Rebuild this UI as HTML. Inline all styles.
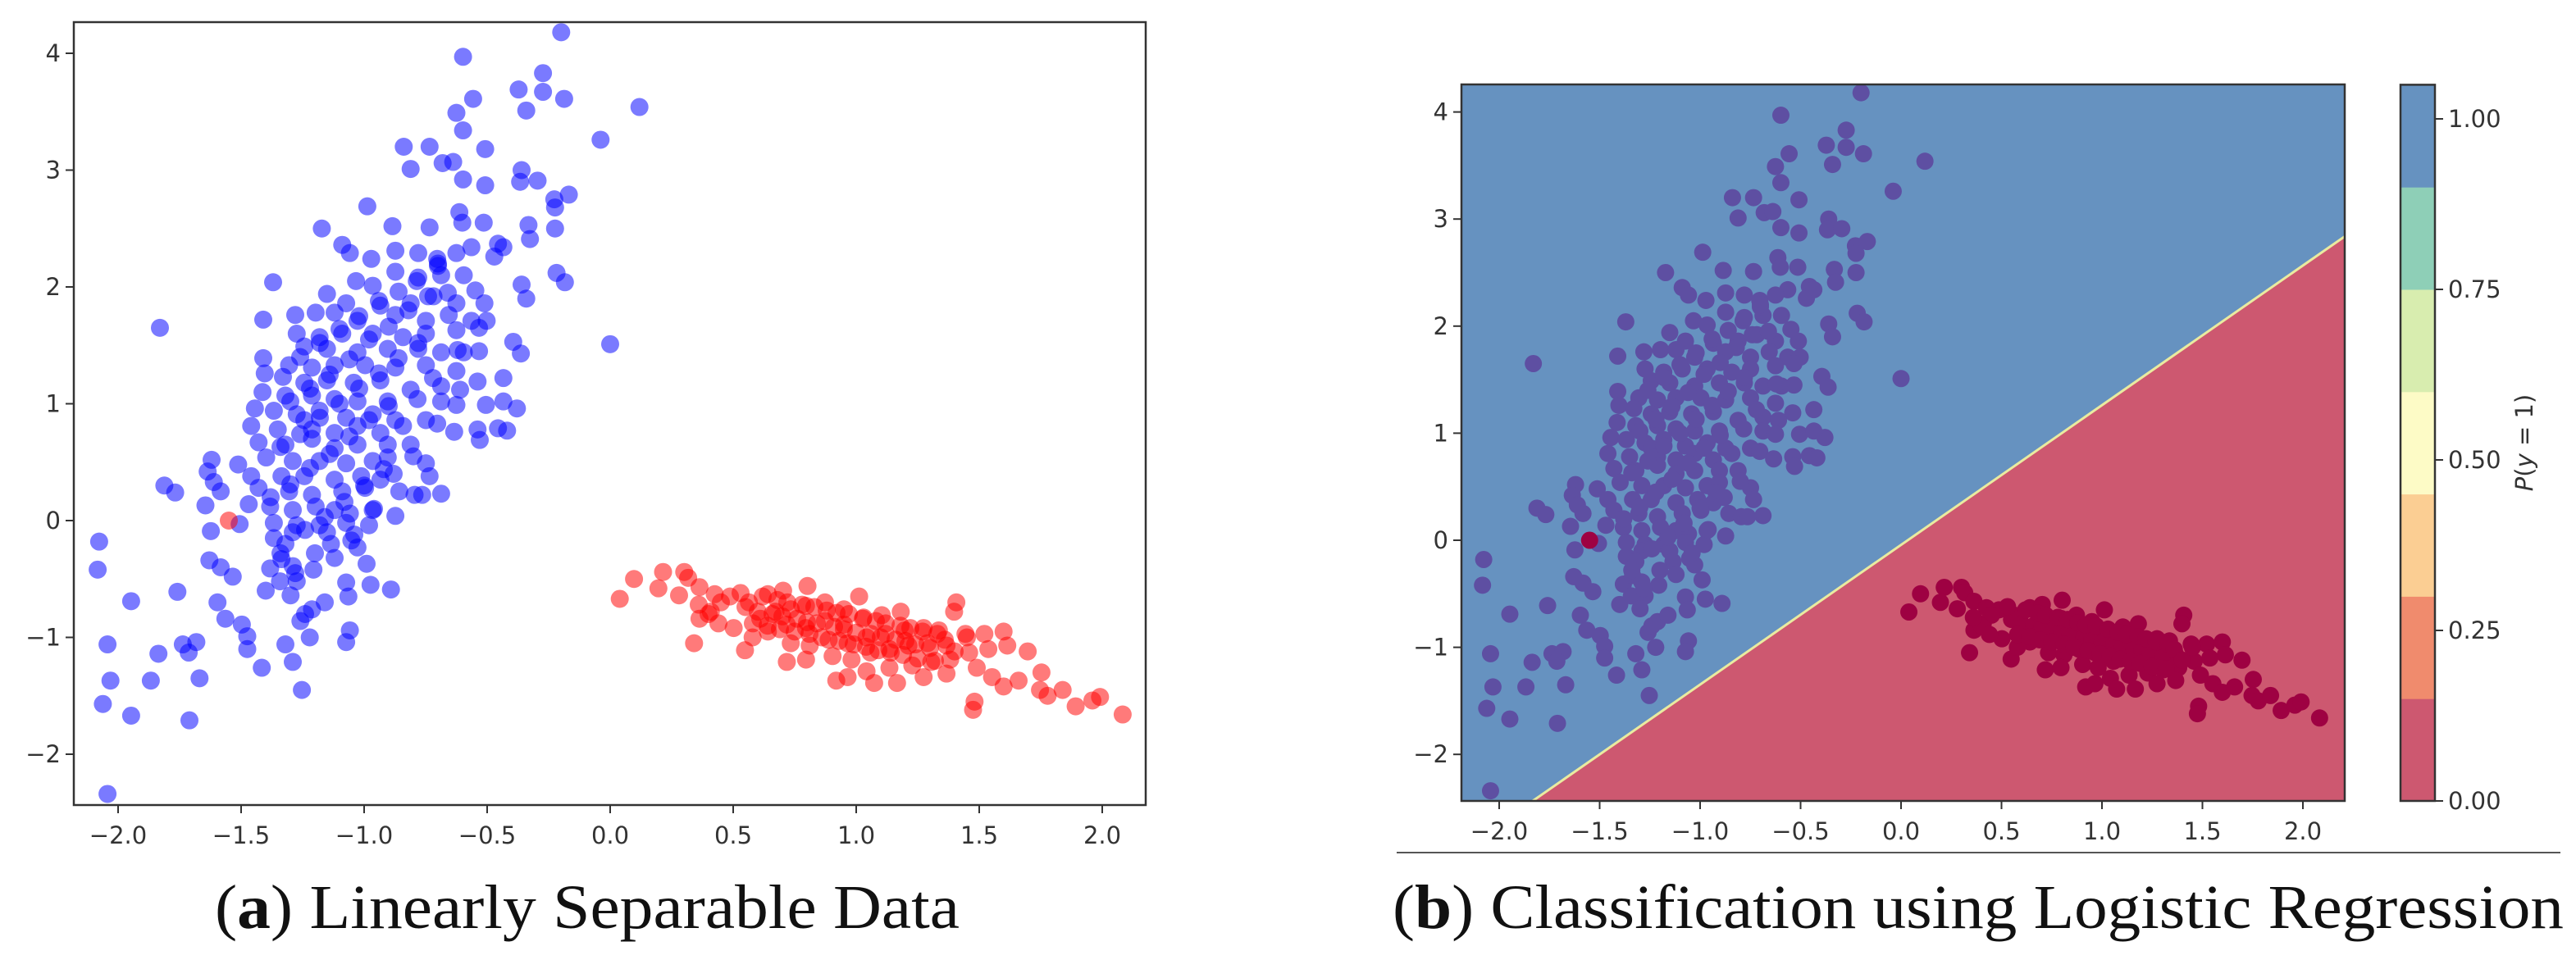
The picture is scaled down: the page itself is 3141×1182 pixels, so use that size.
<!DOCTYPE html>
<html><head><meta charset="utf-8"><style>
html,body{margin:0;padding:0;background:#fff;}
svg{display:block;}
.tk{font-family:"DejaVu Sans","Liberation Sans",sans-serif;font-size:29px;fill:#333;}
.cap{font-family:"Liberation Serif",serif;font-size:76px;fill:#111;}
</style></head><body>
<svg id="fig" width="3141" height="1182" viewBox="0 0 3141 1182" xmlns="http://www.w3.org/2000/svg">
<g id="left"></g>
<g id="right"></g>
<line x1="1703" y1="1040" x2="3122" y2="1040" stroke="#555" stroke-width="2"/>
<text class="cap" x="262" y="1132" textLength="908" lengthAdjust="spacingAndGlyphs">(<tspan font-weight="bold">a</tspan>) Linearly Separable Data</text>
<text class="cap" x="1698" y="1132" textLength="1428" lengthAdjust="spacingAndGlyphs">(<tspan font-weight="bold">b</tspan>) Classification using Logistic Regression</text>
</svg>
<script>
const blueX=[-0.199,-0.598,-0.273,-0.372,-0.273,-0.187,-0.557,-0.625,-0.341,0.119,-0.598,-0.039,-0.839,-0.734,-0.508,-0.811,-0.681,-0.638,-0.598,-0.508,-0.360,-0.366,-0.295,-0.168,-0.227,-0.224,-0.987,-0.613,-1.172,-0.885,-0.734,-0.601,-0.514,-0.332,-0.224,-0.326,-0.564,-0.456,-1.089,-1.058,-0.971,-0.873,-0.780,-0.703,-0.625,-0.471,-0.434,-0.218,-0.184,-0.360,-0.341,-1.370,-1.033,-0.965,-0.873,-0.786,-0.687,-0.595,-0.548,-1.151,-1.073,-0.934,-0.811,-0.718,-0.625,-0.511,-1.830,-1.410,-1.280,-1.197,-1.120,-1.027,-0.873,-0.749,-0.656,-0.564,-0.502,-1.274,-1.181,-1.089,-0.965,-0.842,-0.749,-0.625,-0.533,0.0,-0.394,-0.363,-1.243,-1.151,-1.027,-0.904,-0.780,-0.687,-0.595,-0.533,-1.410,-1.305,-1.212,-1.120,-0.996,-0.873,-0.749,-0.625,-0.434,-0.539,-1.404,-1.330,-1.243,-1.151,-1.042,-0.934,-0.811,-0.687,-0.610,-1.413,-1.320,-1.212,-1.120,-1.027,-0.904,-0.783,-0.687,-0.625,-0.505,-0.434,-0.379,-1.444,-1.367,-1.274,-1.181,-1.073,-0.965,-0.873,-0.749,-0.703,-1.459,-1.351,-1.243,-1.212,-1.120,-1.027,-0.934,-0.842,-0.634,-0.539,-0.456,-0.419,-0.530,-1.429,-1.320,-1.212,-1.120,-1.027,-0.904,-0.811,-1.620,-1.512,-1.398,-1.290,-1.181,-1.073,-0.965,-0.904,-0.749,-1.636,-1.459,-1.336,-1.243,-1.120,-1.012,-0.934,-0.734,-1.611,-1.583,-1.812,-1.768,-1.429,-1.305,-1.212,-1.089,-0.996,-0.857,-0.795,-0.687,-0.764,-1.645,-1.469,-1.382,-1.290,-1.197,-1.120,-1.058,-0.965,-0.873,-1.506,-1.367,-1.274,-1.181,-1.073,-0.980,-1.623,-1.367,-1.290,-1.151,-1.052,-1.135,-1.027,-2.077,-2.083,-1.629,-1.583,-1.534,-1.382,-1.336,-1.290,-1.206,-0.990,-1.342,-1.274,-1.073,-0.974,-0.891,-1.299,-1.064,-1.947,-1.759,-1.596,-1.564,-1.212,-1.259,-1.497,-1.475,-1.058,-2.043,-1.737,-1.682,-1.713,-1.836,-1.475,-1.320,-1.221,-1.073,-1.290,-2.031,-1.867,-1.669,-1.416,-1.253,-2.062,-1.947,-1.710,-2.043,
-1.26,-1.18,-1.10,-1.02,-0.94,-0.86,-0.78,-0.70,-1.30,-1.22,-1.14,-1.06,-0.98,-0.90,-0.82,-0.74,-1.34,-1.26,-1.18,-1.10,-1.02,-0.94,-0.86,-0.78,-1.38,-1.30,-1.22,-1.14,-1.06,-0.98,-0.90,-1.32,-1.24,-1.16,-1.08,-1.00,-0.92,-1.40,-1.28,-1.20,-1.12,-1.04,-0.96,-0.66,-0.72,-0.80,-0.88,-1.16,-1.24,-1.34,-0.62,-0.70];
const blueY=[4.18,3.97,3.83,3.69,3.67,3.61,3.61,3.49,3.51,3.54,3.34,3.26,3.20,3.20,3.18,3.01,3.06,3.07,2.92,2.87,3.00,2.90,2.91,2.79,2.75,2.68,2.69,2.64,2.50,2.52,2.51,2.55,2.55,2.53,2.50,2.41,2.34,2.37,2.36,2.29,2.24,2.31,2.29,2.24,2.29,2.26,2.34,2.12,2.04,2.02,1.90,2.04,2.05,2.01,2.13,2.05,2.10,2.10,1.97,1.94,1.86,1.84,1.86,1.92,1.86,1.86,1.65,1.72,1.76,1.78,1.78,1.71,1.76,1.71,1.76,1.71,1.71,1.60,1.57,1.60,1.60,1.57,1.60,1.63,1.65,1.51,1.53,1.43,1.49,1.47,1.44,1.47,1.47,1.44,1.44,1.45,1.39,1.33,1.31,1.33,1.33,1.31,1.33,1.28,1.22,1.19,1.26,1.23,1.18,1.20,1.18,1.20,1.12,1.15,1.12,1.10,1.07,1.07,1.04,1.02,1.02,1.04,1.02,0.99,0.99,1.02,0.96,0.96,0.94,0.91,0.94,0.88,0.91,0.86,0.86,0.83,0.81,0.78,0.86,0.78,0.75,0.81,0.75,0.81,0.76,0.78,0.79,0.77,0.69,0.67,0.65,0.70,0.62,0.65,0.65,0.65,0.52,0.48,0.54,0.51,0.51,0.49,0.51,0.54,0.49,0.42,0.38,0.38,0.38,0.35,0.38,0.35,0.38,0.33,0.25,0.30,0.24,0.28,0.25,0.22,0.25,0.28,0.25,0.22,0.23,0.22,0.13,0.14,0.12,0.09,0.12,0.09,0.06,0.09,0.04,-0.03,-0.02,-0.04,-0.04,-0.02,-0.04,-0.09,-0.15,-0.10,-0.10,-0.17,-0.20,-0.23,-0.18,-0.42,-0.34,-0.40,-0.48,-0.41,-0.33,-0.39,-0.42,-0.37,-0.52,-0.52,-0.53,-0.55,-0.59,-0.64,-0.65,-0.69,-0.61,-0.70,-0.84,-0.76,-0.86,-0.89,-0.99,-0.94,-1.06,-1.06,-1.04,-1.13,-1.14,-1.10,-1.06,-1.00,-1.04,-1.21,-1.37,-1.37,-1.35,-1.26,-1.45,-1.57,-1.67,-1.71,-2.34,
1.40,1.52,1.64,1.75,1.88,1.96,2.08,2.18,1.02,1.13,1.25,1.38,1.55,1.66,1.80,1.92,0.63,0.74,0.88,1.00,1.13,1.26,1.39,1.52,0.20,0.31,0.45,0.57,0.72,0.86,0.98,-0.20,-0.08,0.03,0.16,0.30,0.44,-0.60,-0.45,-0.28,-0.32,-0.12,0.10,1.95,1.22,0.55,0.40,-0.70,-0.80,-0.28,1.46,2.20];
const redX=[0.039,0.097,0.215,0.196,0.301,0.317,0.280,0.363,0.425,0.341,0.363,0.409,0.502,0.548,0.487,0.564,0.641,0.703,0.802,0.610,0.672,0.734,0.796,0.873,0.950,1.012,0.641,0.718,0.796,0.873,0.950,1.027,1.104,1.181,0.734,0.811,0.888,0.965,1.042,1.119,1.197,1.274,1.336,1.407,1.398,0.718,0.796,0.904,0.981,1.058,1.135,1.212,1.290,1.367,1.444,1.521,1.599,0.919,0.965,1.042,1.135,1.166,1.228,1.305,1.382,1.459,1.537,1.614,1.697,1.490,1.552,1.599,1.481,1.475,1.753,1.747,1.778,1.839,1.892,1.960,1.991,2.083,1.660,1.367,1.274,0.579,1.073,-1.55,
0.55,0.60,0.66,0.70,0.76,0.80,0.84,0.91,0.95,1.00,1.06,1.10,1.16,1.20,1.24,1.30,0.53,0.62,0.68,0.72,0.78,0.83,0.88,0.92,0.97,1.03,1.08,1.12,1.18,1.22,1.27,1.33,0.58,0.64,0.69,0.75,0.81,0.86,0.93,0.99,1.04,1.09,1.14,1.19,1.25,1.32,0.45,0.40,0.36,0.44,1.36,1.40,1.45];
const redY=[-0.67,-0.50,-0.44,-0.58,-0.44,-0.49,-0.64,-0.57,-0.63,-1.05,-0.84,-0.78,-0.92,-1.11,-0.65,-0.70,-0.63,-0.60,-0.56,-0.84,-0.78,-0.76,-0.73,-0.70,-0.76,-0.65,-0.95,-0.89,-0.92,-0.86,-0.89,-0.84,-0.81,-0.78,-1.05,-1.07,-1.02,-1.05,-1.00,-0.97,-0.94,-0.92,-0.94,-0.70,-0.78,-1.21,-1.19,-1.16,-1.19,-1.13,-1.10,-1.07,-1.05,-1.07,-0.97,-0.97,-0.95,-1.37,-1.34,-1.29,-1.26,-1.39,-1.24,-1.21,-1.19,-1.13,-1.10,-1.07,-1.12,-1.26,-1.34,-1.42,-1.55,-1.62,-1.30,-1.45,-1.50,-1.45,-1.59,-1.54,-1.51,-1.66,-1.37,-1.31,-1.34,-1.00,-1.39,0.0,
-0.74,-0.78,-0.80,-0.82,-0.84,-0.87,-0.88,-0.91,-0.93,-0.96,-0.97,-1.00,-1.02,-1.03,-1.06,-1.09,-0.62,-0.65,-0.68,-0.70,-0.72,-0.74,-0.77,-0.79,-0.80,-0.83,-0.86,-0.88,-0.90,-0.92,-0.95,-0.97,-0.88,-0.90,-0.93,-0.95,-0.97,-1.00,-1.03,-1.06,-1.08,-1.11,-1.13,-1.15,-1.18,-1.20,-0.70,-0.80,-0.72,-0.88,-1.02,-1.12,-1.00];
const xTicks=[-2.0,-1.5,-1.0,-0.5,0.0,0.5,1.0,1.5,2.0];
const xTickLabels=["\u22122.0","\u22121.5","\u22121.0","\u22120.5","0.0","0.5","1.0","1.5","2.0"];
const yTicks=[-2,-1,0,1,2,3,4];
const yTickLabels=["\u22122","\u22121","0","1","2","3","4"];
const boundaryX=[-1.86,2.21];
const boundaryY=[-2.47,2.84];
const cbLevels=[0,0.15,0.3,0.45,0.6,0.75,0.9,1.05];
const cbColors=["#cd5870","#f08b6d","#fbce93","#fdfbc6","#d8edaf","#8ecfb7","#6692c0"];
const cbTicks=[0,0.25,0.5,0.75,1.0];
const cbTickLabels=["0.00","0.25","0.50","0.75","1.00"];

const NS="http://www.w3.org/2000/svg";
function mk(p,t,a){const e=document.createElementNS(NS,t);for(const k in a)e.setAttribute(k,a[k]);p.appendChild(e);return e;}

function axes(g,F,sx,sy,name){
  const ax=mk(g,'g',{});
  
  
  xTicks.forEach((v,i)=>{
    const x=sx(v);
    const l=mk(ax,'line',{x1:x,y1:F.b,x2:x,y2:F.b+10,stroke:'#333','stroke-width':2});
    
    
    const t=mk(ax,'text',{x:x,y:F.b+47,'text-anchor':'middle',class:'tk'});
    t.textContent=xTickLabels[i];
    
    
  });
  yTicks.forEach((v,i)=>{
    const y=sy(v);
    const l=mk(ax,'line',{x1:F.l-10,y1:y,x2:F.l,y2:y,stroke:'#333','stroke-width':2});
    
    
    const t=mk(ax,'text',{x:F.l-16,y:y+10,'text-anchor':'end',class:'tk'});
    t.textContent=yTickLabels[i];
    
    
  });
  const fr=mk(ax,'rect',{x:F.l,y:F.t,width:F.r-F.l,height:F.b-F.t,fill:'none',stroke:'#333','stroke-width':2.5});
  
  
}

// Left panel
(function(){
  const g=document.getElementById('left');
  const F={l:90,r:1397,t:27,b:982};
  const sx=v=>744+300*v, sy=v=>635-142.5*v;
  const clip=mk(g,'clipPath',{id:'cl'});mk(clip,'rect',{x:F.l,y:F.t,width:F.r-F.l,height:F.b-F.t});
  const pts=mk(g,'g',{'clip-path':'url(#cl)'});
  
  
  blueX.forEach((x,i)=>{const c=mk(pts,'circle',{cx:sx(x),cy:sy(blueY[i]),r:11,fill:'#0000ff','fill-opacity':0.52});
    
    });
  redX.forEach((x,i)=>{const c=mk(pts,'circle',{cx:sx(x),cy:sy(redY[i]),r:11,fill:'#ff0000','fill-opacity':0.52});
    
    });
  axes(g,F,sx,sy,'left');
})();

// Right panel
(function(){
  const g=document.getElementById('right');
  const F={l:1782,r:2859,t:103,b:977};
  const sx=v=>2318+245*v, sy=v=>659-130.6*v;
  const clip=mk(g,'clipPath',{id:'cr'});mk(clip,'rect',{x:F.l,y:F.t,width:F.r-F.l,height:F.b-F.t});
  const inner=mk(g,'g',{'clip-path':'url(#cr)'});
  const bg=mk(inner,'rect',{x:F.l,y:F.t,width:F.r-F.l,height:F.b-F.t,fill:'#6692c0'});
  
  
  const x1=sx(boundaryX[0]),y1=sy(boundaryY[0]),x2=sx(boundaryX[1]),y2=sy(boundaryY[1]);
  const poly=mk(inner,'polygon',{points:`${x1},${y1} ${x2},${y2} ${F.r+5},${y2} ${F.r+5},${F.b+5} ${x1},${F.b+5}`,fill:'#cd5870'});
  
  
  const bl=mk(inner,'line',{x1:x1,y1:y1,x2:x2,y2:y2,stroke:'#e9eba0','stroke-width':3});
  
  
  blueX.forEach((x,i)=>{const c=mk(inner,'circle',{cx:sx(x),cy:sy(blueY[i]),r:10.5,fill:'#5e4fa2'});
    
    });
  redX.forEach((x,i)=>{const c=mk(inner,'circle',{cx:sx(x),cy:sy(redY[i]),r:10.5,fill:'#9e0142'});
    
    });
  axes(g,F,sx,sy,'right');

  // Colorbar
  const cb=mk(g,'g',{});
  
  
  const CL=2927,CR=2969,cy=v=>977-832*v;
  cbColors.forEach((col,i)=>{
    const r=mk(cb,'rect',{x:CL,y:cy(cbLevels[i+1]),width:CR-CL,height:cy(cbLevels[i])-cy(cbLevels[i+1])+0.5,fill:col});
    
    
  });
  mk(cb,'rect',{x:CL,y:cy(1.05),width:CR-CL,height:cy(0)-cy(1.05),fill:'none',stroke:'#333','stroke-width':2.5});
  cbTicks.forEach((v,i)=>{
    mk(cb,'line',{x1:CR,y1:cy(v),x2:CR+10,y2:cy(v),stroke:'#333','stroke-width':2});
    const t=mk(cb,'text',{x:CR+16,y:cy(v)+10,class:'tk'});
    t.textContent=cbTickLabels[i];
    
    
  });
  const lab=mk(cb,'text',{x:3088,y:540,'text-anchor':'middle',class:'tk',transform:'rotate(-90 3088 540)'});
  lab.innerHTML='<tspan font-style="italic">P</tspan>(<tspan font-style="italic">y</tspan> = 1)';
  
  
})();
</script>
</body></html>
